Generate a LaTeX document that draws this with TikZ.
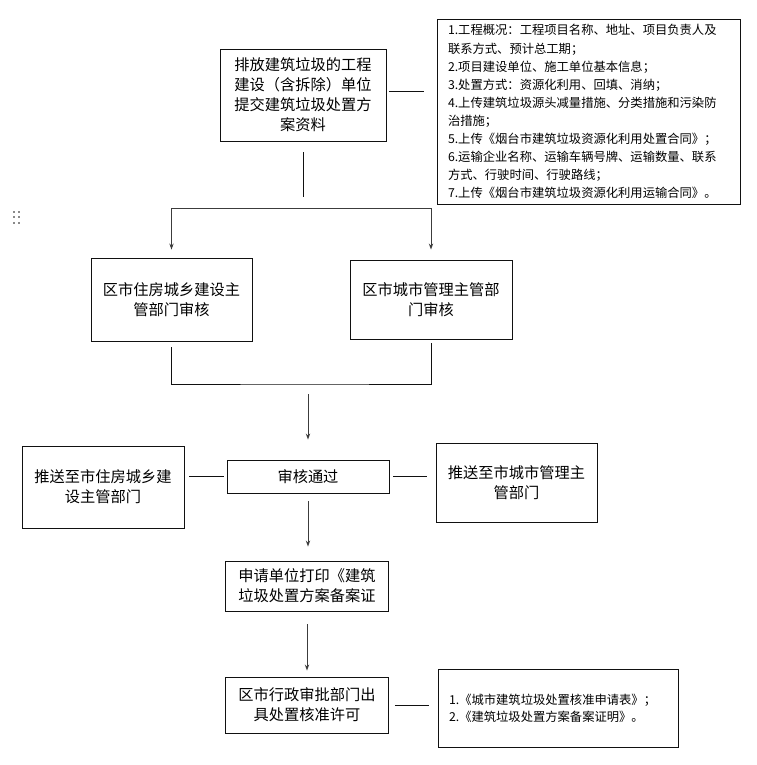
\documentclass[tikz,border=0pt]{standalone}
\usepackage{fontspec}
\setmainfont{Noto Sans CJK SC}
\usetikzlibrary{arrows.meta}
\definecolor{flowink}{HTML}{111111}
\definecolor{flowarr}{HTML}{3C3C3C}
\definecolor{flowdot}{HTML}{8A8A8A}
\tikzset{
  bx/.style={draw=flowink, line width=0.8pt, align=center, inner sep=2pt, font=\fontsize{13pt}{17pt}\selectfont},
  note/.style={draw=flowink, line width=0.8pt, align=left, inner xsep=3.3mm, inner ysep=2pt, font=\fontsize{10.5pt}{15.4pt}\selectfont},
  ln/.style={line width=0.8pt, color=flowink},
  arr/.style={-{Stealth[length=1.8mm, width=1.3mm]}, line width=0.8pt, color=flowarr},
}
\begin{document}
\begin{tikzpicture}[x=0.03cm, y=-0.03cm]
    \path[fill=white, use as bounding box] (0,0) rectangle (756,765);
    \foreach \dx in {14,19} \foreach \dy in {212,217,223}
      \fill[flowdot] (\dx-1.2,\dy-1.2) rectangle (\dx+1.2,\dy+1.2);
    \node[bx, minimum width=4.98cm, minimum height=2.76cm] (sub) at (303,95) {排放建筑垃圾的工程\\建设（含拆除）单位\\提交建筑垃圾处置方\\案资料};
    \node[note, text width=8.43cm, minimum height=5.55cm] (info) at (588.5,111.5) {1.工程概况：工程项目名称、地址、项目负责人及\\联系方式、预计总工期；\\2.项目建设单位、施工单位基本信息；\\3.处置方式：资源化利用、回填、消纳；\\4.上传建筑垃圾源头减量措施、分类措施和污染防\\治措施；\\5.上传《烟台市建筑垃圾资源化利用处置合同》；\\6.运输企业名称、运输车辆号牌、运输数量、联系\\方式、行驶时间、行驶路线；\\7.上传《烟台市建筑垃圾资源化利用运输合同》。};
    \node[bx, minimum width=4.83cm, minimum height=2.49cm] (zj) at (171.5,299.5) {区市住房城乡建设主\\管部门审核};
    \node[bx, minimum width=4.86cm, minimum height=2.37cm] (cg) at (431,299.5) {区市城市管理主管部\\门审核};
    \node[bx, minimum width=4.86cm, minimum height=0.99cm] (pass) at (308,476.5) {审核通过};
    \node[bx, minimum width=4.86cm, minimum height=2.46cm] (tozj) at (103,487) {推送至市住房城乡建\\设主管部门};
    \node[bx, minimum width=4.83cm, minimum height=2.37cm] (tocg) at (516.5,482.5) {推送至市城市管理主\\管部门};
    \node[bx, minimum width=4.89cm, minimum height=1.5cm] (print) at (307,586) {申请单位打印《建筑\\垃圾处置方案备案证};
    \node[bx, minimum width=4.89cm, minimum height=1.68cm] (permit) at (307,705) {区市行政审批部门出\\具处置核准许可};
    \node[note, text width=6.54cm, minimum height=2.34cm, font=\fontsize{10.5pt}{14.5pt}\selectfont] (docs) at (558,708) {1.《城市建筑垃圾处置核准申请表》；\\2.《建筑垃圾处置方案备案证明》。};
    \coordinate (fork) at (303,208);
    \coordinate (join) at (308,384);
    \draw[ln, shorten <=0.9mm, shorten >=3.9mm] ([yshift=1.2mm]sub.east) -- ([yshift=1.2mm]sub.east -| info.west);
    \draw[ln, shorten <=3.3mm, shorten >=3.3mm] (sub.south) -- (fork);
    \draw[arr, shorten >=2.4mm] (fork) -| (zj.north);
    \draw[arr, shorten >=3mm] (fork) -| (cg.north);
    \draw[ln, shorten <=1.8mm, shorten >=1.2mm] (zj.south) |- (join) -| (cg.south);
    \draw[arr, shorten <=3mm, shorten >=6mm] (join) -- (pass.north);
    \draw[ln, shorten <=0.9mm, shorten >=1.5mm] (pass.west) -- (pass.west -| tozj.east);
    \draw[ln, shorten <=1.2mm, shorten >=2.7mm] (pass.east) -- (pass.east -| tocg.west);
    \draw[arr, shorten <=2.4mm, shorten >=4.2mm] (pass.south) -- (pass.south |- print.north);
    \draw[arr, shorten <=3.9mm, shorten >=1.8mm] (print.south) -- (permit.north);
    \draw[ln, shorten <=1.8mm, shorten >=2.7mm] (permit.east) -- (permit.east -| docs.west);
  \end{tikzpicture}
\end{document}
